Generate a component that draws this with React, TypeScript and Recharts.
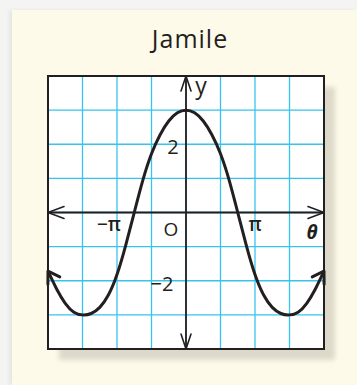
import React from 'react';
import {
  LineChart,
  Line,
  XAxis,
  YAxis,
  CartesianGrid,
  ReferenceLine,
  ReferenceDot,
  ReferenceArea,
} from 'recharts';

// θ in multiples of π, read every π/8
const THETA = [
  -2, -1.875, -1.75, -1.625, -1.5, -1.375, -1.25, -1.125, -1, -0.875, -0.75, -0.625, -0.5, -0.375, -0.25, -0.125,
  0, 0.125, 0.25, 0.375, 0.5, 0.625, 0.75, 0.875, 1, 1.125, 1.25, 1.375, 1.5, 1.625, 1.75, 1.875, 2,
];
const Y_VALUES = [
  -1.72, -2.24, -2.66, -2.92, -3, -2.96, -2.78, -2.42, -1.82, -0.97, 0, 0.95, 1.72, 2.28, 2.68, 2.92,
  3, 2.92, 2.68, 2.28, 1.72, 0.95, 0, -0.97, -1.82, -2.42, -2.78, -2.96, -3, -2.92, -2.66, -2.24, -1.72,
];

const X_TICKS = [-2, -1.5, -1, -0.5, 0, 0.5, 1, 1.5, 2];
const Y_TICKS = [-4, -3, -2, -1, 0, 1, 2, 3, 4];

const LABEL_TEXT = ['−π', 'π', 'O', 'θ', 'y', '2', '−2'];
const LABEL_X = [-1, 1, 0, 2, 0, 0, 0];
const LABEL_Y = [0, 0, 0, 0, 4, 2, -2];

// pixel nudges / styles for each label (same order)
const LABEL_STYLE = [
  { dx: -8, dy: 18, size: 19, italic: false, weight: 600 },
  { dx: 0, dy: 18, size: 19, italic: false, weight: 600 },
  { dx: -15, dy: 23, size: 19, italic: false, weight: 400 },
  { dx: -12, dy: 26, size: 19, italic: true, weight: 700 },
  { dx: 15, dy: 18, size: 23, italic: false, weight: 400 },
  { dx: -13, dy: 10, size: 20, italic: false, weight: 400 },
  { dx: -24, dy: 10, size: 20, italic: false, weight: 400 },
];

const data = THETA.map((t, i) => ({ t, y: Y_VALUES[i] }));

const INK = '#231f20';
const GRID = '#36c4ee';

const chevron = (angle: number, len: number, half: number, width: number) => (props: any) => {
  const { cx, cy } = props;
  if (cx == null || cy == null) return null;
  return (
    <path
      d={`M ${-len} ${-half} L 0 0 L ${-len} ${half}`}
      transform={`translate(${cx},${cy}) rotate(${angle})`}
      fill="none"
      stroke={INK}
      strokeWidth={width}
      strokeLinecap="round"
      strokeLinejoin="round"
    />
  );
};

const labelShape = (i: number) => (props: any) => {
  const { cx, cy } = props;
  if (cx == null || cy == null) return null;
  const s = LABEL_STYLE[i];
  return (
    <text
      x={cx + s.dx}
      y={cy + s.dy}
      textAnchor="middle"
      fontSize={s.size}
      fontFamily="'Open Sans', sans-serif"
      fontStyle={s.italic ? 'italic' : 'normal'}
      fontWeight={s.weight}
      fill={INK}
    >
      {LABEL_TEXT[i]}
    </text>
  );
};

export default function App() {
  const last = data.length - 1;
  return (
    <div style={{ position: 'absolute', left: 0, top: 0, width: 357, height: 385, background: '#f4f4f2', overflow: 'hidden' }}>
      <div
        style={{
          position: 'absolute',
          left: 12,
          top: 10,
          width: 345,
          height: 375,
          background: '#fefae9',
          boxShadow: '-3px 0 4px rgba(0,0,0,0.06)',
        }}
      />
      <div
        style={{
          position: 'absolute',
          left: 0,
          width: 380,
          top: 21,
          textAlign: 'center',
          fontFamily: "'Open Sans', sans-serif",
          fontSize: 25,
          letterSpacing: 1,
          color: INK,
        }}
      >
        Jamile
      </div>
      <div
        style={{
          position: 'absolute',
          left: 48,
          top: 76,
          width: 276,
          height: 273,
          background: '#ffffff',
          boxShadow: '11px 11px 5px rgba(0,0,0,0.13)',
        }}
      />
      <div style={{ position: 'absolute', left: 0, top: 0 }}>
        <LineChart width={357} height={385} data={data} margin={{ left: 48, right: 33, top: 76, bottom: 36 }}>
          <CartesianGrid stroke={GRID} strokeWidth={1.3} />
          <XAxis type="number" dataKey="t" domain={[-2, 2]} ticks={X_TICKS} hide />
          <YAxis type="number" domain={[-4, 4]} ticks={Y_TICKS} hide />
          <ReferenceArea x1={-2} x2={2} y1={-4} y2={4} fill="none" stroke={INK} strokeWidth={2} ifOverflow="visible" />
          <ReferenceLine x={0} stroke={INK} strokeWidth={1.8} />
          <ReferenceLine y={0} stroke={INK} strokeWidth={1.8} />
          <ReferenceDot x={2} y={0} ifOverflow="visible" shape={chevron(0, 16, 6, 1.6)} />
          <ReferenceDot x={-2} y={0} ifOverflow="visible" shape={chevron(180, 16, 6, 1.6)} />
          <ReferenceDot x={0} y={4} ifOverflow="visible" shape={chevron(-90, 15, 5, 1.6)} />
          <ReferenceDot x={0} y={-4} ifOverflow="visible" shape={chevron(90, 15, 5, 1.6)} />
          {LABEL_TEXT.map((_, i) => (
            <ReferenceDot key={`lbl-${i}`} x={LABEL_X[i]} y={LABEL_Y[i]} ifOverflow="visible" shape={labelShape(i)} />
          ))}
          <Line
            type="natural"
            dataKey="y"
            stroke={INK}
            strokeWidth={3}
            dot={false}
            activeDot={false}
            isAnimationActive={false}
          />
          <ReferenceDot x={THETA[0]} y={Y_VALUES[0]} ifOverflow="visible" shape={chevron(-122, 11, 7, 3)} />
          <ReferenceDot x={THETA[last]} y={Y_VALUES[last]} ifOverflow="visible" shape={chevron(-58, 11, 7, 3)} />
        </LineChart>
      </div>
    </div>
  );
}
